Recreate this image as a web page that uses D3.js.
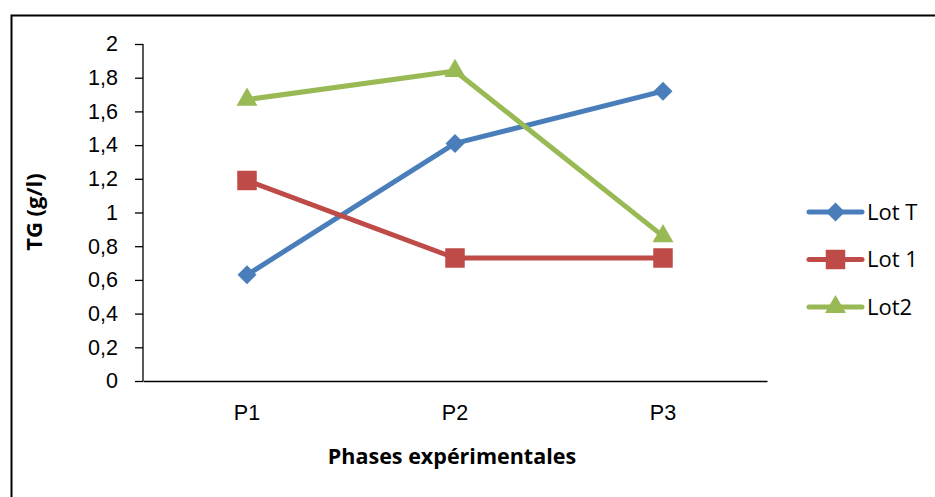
<!DOCTYPE html>
<html><head><meta charset="utf-8">
<script src="https://cdn.jsdelivr.net/npm/d3@7"></script>
<style>body{margin:0;background:#fff}svg{display:block;font-family:"Open Sans",sans-serif}</style>
</head><body><svg id="c" width="935" height="497"></svg>
<script>
const categories = ["P1", "P2", "P3"];
const seriesNames = ["Lot T", "Lot 1", "Lot2"];
const lotT = [0.63, 1.41, 1.72];
const lot1 = [1.19, 0.73, 0.73];
const lot2 = [1.67, 1.84, 0.86];
const yTicks = [0, 0.2, 0.4, 0.6, 0.8, 1, 1.2, 1.4, 1.6, 1.8, 2];
const colors = ["#4a7ebb", "#be4b48", "#98b954"];
const symbols = [d3.symbolSquare, d3.symbolSquare, d3.symbolTriangle];
const symSizes = [180, 380, 190];
const symRot = [45, 0, 0];

const series = [lotT, lot1, lot2].map((v, i) => ({name: seriesNames[i], values: v, color: colors[i], sym: symbols[i], size: symSizes[i], rot: symRot[i]}));

const svg = d3.select("#c");
svg.append("rect").attr("x", 11.5).attr("y", 15.5).attr("width", 940).attr("height", 500)
  .attr("fill", "none").attr("stroke", "#000").attr("stroke-width", 2);

const x = d3.scaleBand().domain(categories).range([143, 767]);
const y = d3.scaleLinear().domain([0, 2]).range([381, 44]);

const fmt = d => String(d).replace(".", ",");
const yAxis = svg.append("g").attr("transform", "translate(143,0)")
  .call(d3.axisLeft(y).tickValues(yTicks).tickFormat(fmt).tickSize(8).tickPadding(17));
yAxis.select(".domain").attr("stroke", "#000").attr("stroke-width", 1.3).attr("d", "M0,44V381");
yAxis.selectAll(".tick line").attr("stroke", "#000").attr("stroke-width", 1.3);
yAxis.selectAll("text").attr("font-size", 21.5).attr("fill", "#000");

const xAxis = svg.append("g").attr("transform", "translate(0,381)")
  .call(d3.axisBottom(x).tickSize(0).tickPadding(24));
xAxis.select(".domain").attr("stroke", "#000").attr("stroke-width", 1.3);
xAxis.selectAll("text").attr("font-size", 21.5).attr("fill", "#000");

const line = d3.line().x((d, i) => x(categories[i]) + x.bandwidth() / 2).y(d => y(d));
series.forEach(s => {
  svg.append("path").attr("d", line(s.values)).attr("fill", "none")
    .attr("stroke", s.color).attr("stroke-width", 5).attr("stroke-linejoin", "round");
  svg.selectAll(null).data(s.values).enter().append("path")
    .attr("d", d3.symbol().type(s.sym).size(s.size))
    .attr("transform", (d, i) => `translate(${x(categories[i]) + x.bandwidth() / 2},${y(d)}) rotate(${s.rot})`)
    .attr("fill", s.color);
});

svg.append("text").attr("transform", "translate(42,212) rotate(-90)").attr("text-anchor", "middle")
  .attr("font-size", 22).attr("font-weight", "bold").text("TG (g/l)");
svg.append("text").attr("x", 452).attr("y", 464).attr("text-anchor", "middle")
  .attr("font-size", 21.5).attr("font-weight", "bold").text("Phases expérimentales");

const leg = svg.append("g");
series.forEach((s, i) => {
  const ly = 212 + i * 47.5;
  leg.append("line").attr("x1", 809).attr("x2", 862).attr("y1", ly).attr("y2", ly)
    .attr("stroke", s.color).attr("stroke-width", 5).attr("stroke-linecap", "round");
  leg.append("path").attr("d", d3.symbol().type(s.sym).size(s.size)).attr("transform", `translate(835.5,${ly}) rotate(${s.rot})`).attr("fill", s.color);
  leg.append("text").attr("x", 867).attr("y", ly).attr("dy", "0.35em").attr("font-size", 22).text(s.name);
});
</script></body></html>
